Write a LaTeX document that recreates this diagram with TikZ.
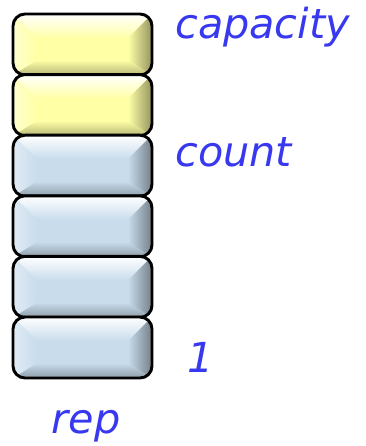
\documentclass[tikz,border=0pt]{standalone}
\usepackage{fontspec}
\setmainfont{DejaVu Sans}
\definecolor{lblblue}{HTML}{3838F0}
\definecolor{cellyellow}{HTML}{FFFFA6}
\definecolor{cellblue}{HTML}{C8DCEC}

\tikzset{
  lbl/.style={text=lblblue, font=\itshape\fontsize{31}{34}\selectfont, inner sep=0pt},
  % one bevelled slot of the array, 139 x 61 px
  pics/cell/.style={code={
    \begin{scope}
      \clip[rounded corners=9] (0,0) rectangle (139,61);
      \fill[#1] (0,0) rectangle (139,61);
      \shade[top color=white, bottom color=#1]
        (0,0) -- (139,0) -- (115,24) -- (24,24) -- cycle;
      \shade[top color=#1, bottom color=#1!72!black]
        (0,61) -- (139,61) -- (115,46) -- (24,46) -- cycle;
      \shade[left color=#1!55!white, right color=#1]
        (0,0) -- (24,24) -- (24,46) -- (0,61) -- cycle;
      \shade[left color=#1, right color=#1!58!black]
        (139,0) -- (115,24) -- (115,46) -- (139,61) -- cycle;
    \end{scope}
    \draw[line width=2.2, rounded corners=9] (0,0) rectangle (139,61);
  }}
}

\begin{document}
\begin{tikzpicture}[x=0.75pt, y=-0.75pt]
  \useasboundingbox (0,0) rectangle (365,446);
  \foreach[count=\i from 0] \c in
      {cellyellow, cellyellow, cellblue, cellblue, cellblue, cellblue} {
    \pic at (13, 14 + 60.6*\i) {cell=\c};
  }
  \node[lbl, anchor=base west] (capacity) at (175, 38) {capacity};
  \node[lbl, anchor=base west] (count) at (175, 166) {count};
  \node[lbl, anchor=base west] (one) at (187, 372) {1};
  \node[lbl, anchor=base] (rep) at (86, 433) {rep};
\end{tikzpicture}
\end{document}
